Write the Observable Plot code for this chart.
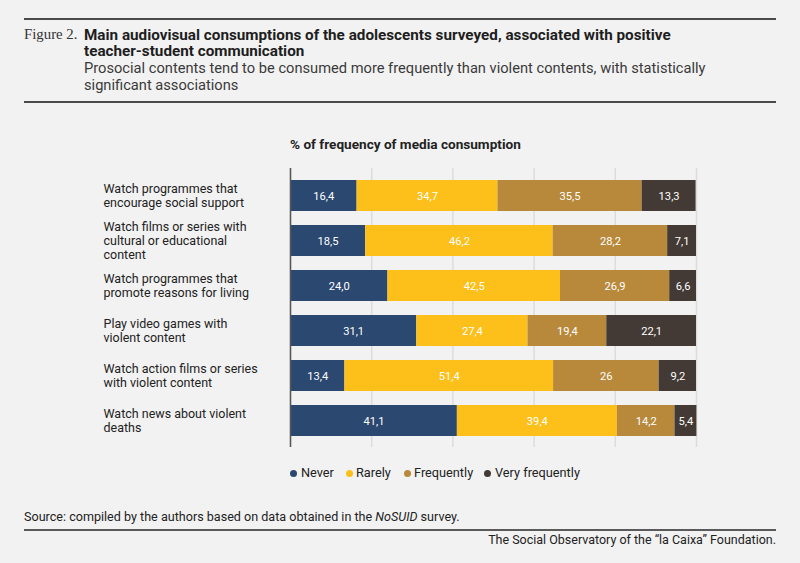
<!DOCTYPE html>
<html><head><meta charset="utf-8">
<script src="https://cdn.jsdelivr.net/npm/d3@7"></script>
<script src="https://cdn.jsdelivr.net/npm/@observablehq/plot@0.6"></script>
<style>
body{margin:0;background:#f2f2f2;font-family:Roboto,"Liberation Sans",sans-serif;color:#222;}
#page{position:relative;width:800px;height:563px;overflow:hidden;background:#f2f2f2;}
.abs{position:absolute;white-space:nowrap;}
.rule{position:absolute;left:24px;width:752px;background:#4a4a4a;}
#fig{left:24px;top:26px;font-family:"Liberation Serif","DejaVu Serif",serif;font-size:14px;line-height:17px;color:#333;}
#title{left:84px;top:26.5px;font-size:14px;font-weight:700;line-height:16.7px;color:#1e1e1e;}
#subtitle{left:84px;top:59.5px;font-size:14px;line-height:17px;color:#3a3a3a;}
#ctitle{left:290px;top:136px;font-size:13px;line-height:16px;font-weight:700;color:#222;}
#chart{position:absolute;left:0;top:158px;}
.lg{position:absolute;top:465px;line-height:16px;font-size:12px;color:#222;white-space:nowrap;}
.dot{position:absolute;top:469.5px;width:7px;height:7px;border-radius:50%;}
#source{left:24px;top:509px;font-size:12px;line-height:16px;color:#222;}
#found{right:24px;top:532px;font-size:12px;line-height:16px;color:#222;}
</style></head><body>
<div id="page">
  <div class="rule" style="top:18px;height:2px;"></div>
  <div class="abs" id="fig">Figure 2.</div>
  <div class="abs" id="title"><span id="t1">Main audiovisual consumptions of the adolescents surveyed, associated with positive</span><br>teacher-student communication</div>
  <div class="abs" id="subtitle"><span id="s1">Prosocial contents tend to be consumed more frequently than violent contents, with statistically</span><br>significant associations</div>
  <div class="rule" style="top:100.5px;height:2px;"></div>
  <div class="abs" id="ctitle">% of frequency of media consumption</div>
  <div id="chart"></div>
  <div id="legend"></div>
  <div class="abs" id="source">Source: compiled by the authors based on data obtained in the <i>NoSUID</i> survey.</div>
  <div class="rule" style="top:529px;height:2px;background:#5a5a5a;"></div>
  <div class="abs" id="found">The Social Observatory of the “la Caixa” Foundation.</div>
</div>
<script>
const categories = [
  "Watch programmes that\nencourage social support",
  "Watch films or series with\ncultural or educational\ncontent",
  "Watch programmes that\npromote reasons for living",
  "Play video games with\nviolent content",
  "Watch action films or series\nwith violent content",
  "Watch news about violent\ndeaths"
];
const series = ["Never", "Rarely", "Frequently", "Very frequently"];
const never = ["16,4", "18,5", "24,0", "31,1", "13,4", "41,1"];
const rarely = ["34,7", "46,2", "42,5", "27,4", "51,4", "39,4"];
const frequently = ["35,5", "28,2", "26,9", "19,4", "26", "14,2"];
const veryFrequently = ["13,3", "7,1", "6,6", "22,1", "9,2", "5,4"];
const colors = ["#2b4870", "#fdbf19", "#b8893b", "#433a35"];
const xTicks = [0, 20, 40, 60, 80, 100];

const seriesValues = [never, rarely, frequently, veryFrequently];
const rows = [];
categories.forEach((c, i) => {
  series.forEach((s, j) => {
    const label = seriesValues[j][i];
    rows.push({category: c, series: s, label, value: +label.replace(",", ".")});
  });
});

// size text so its width matches the reference
function fit(el, target, ref) {
  const r = ref || el;
  const w = r.getBoundingClientRect().width;
  const fs = parseFloat(getComputedStyle(el).fontSize);
  el.style.fontSize = (fs * target / w) + "px";
}
fit(document.getElementById("fig"), 53.5);
fit(document.getElementById("title"), 587, document.getElementById("t1"));
fit(document.getElementById("subtitle"), 622, document.getElementById("s1"));
fit(document.getElementById("ctitle"), 231);
fit(document.getElementById("source"), 436);
fit(document.getElementById("found"), 288);

const FONT = "Roboto, 'Liberation Sans', sans-serif";
const ctx = document.createElement("canvas").getContext("2d");
ctx.font = "12px " + FONT;
const r1 = 135 / ctx.measureText("Watch programmes that").width;
const r2 = 153.5 / ctx.measureText("Watch action films or series").width;
const labelSize = 12 * (r1 + r2) / 2;
const v1 = 21 / ctx.measureText("16,4").width;
const valueSize = Math.min(12.5, 12 * v1);

const chart = Plot.plot({
  width: 800,
  height: 292,
  marginLeft: 290,
  marginRight: 104,
  marginTop: 10,
  marginBottom: 3,
  style: {background: "transparent", fontFamily: FONT, fontSize: "12px", color: "#222"},
  x: {domain: [0, 100], axis: null},
  y: {domain: categories, paddingInner: 0.317, paddingOuter: 0.231, axis: null},
  color: {domain: series, range: colors},
  marks: [
    Plot.ruleX(xTicks, {stroke: "#dcdcdc", strokeWidth: 1.5}),
    Plot.barX(rows, Plot.stackX({x: "value", y: "category", fill: "series"})),
    Plot.text(rows, Plot.stackX({x: "value", y: "category", z: "series", text: "label", fill: "white", fontSize: valueSize})),
    Plot.ruleX([0], {stroke: "#555", strokeWidth: 1.5}),
    Plot.text(categories, {x: 0, y: d => d, text: d => d, textAnchor: "start", dx: -187, lineHeight: 14 / labelSize, fill: "#222", fontSize: labelSize})
  ]
});
document.getElementById("chart").appendChild(chart);

// legend: dots and labels placed as in the reference
const legend = document.getElementById("legend");
const dotX = [290, 346, 404, 484];
const textX = [301, 356, 414, 495];
ctx.font = "12px " + FONT;
const legendSize = 12 * 85 / ctx.measureText("Very frequently").width;
series.forEach((s, j) => {
  const d = document.createElement("div");
  d.className = "dot";
  d.style.left = dotX[j] + "px";
  d.style.background = colors[j];
  legend.appendChild(d);
  const t = document.createElement("div");
  t.className = "lg";
  t.style.left = textX[j] + "px";
  t.style.fontSize = legendSize + "px";
  t.textContent = s;
  legend.appendChild(t);
});
</script>
</body></html>
